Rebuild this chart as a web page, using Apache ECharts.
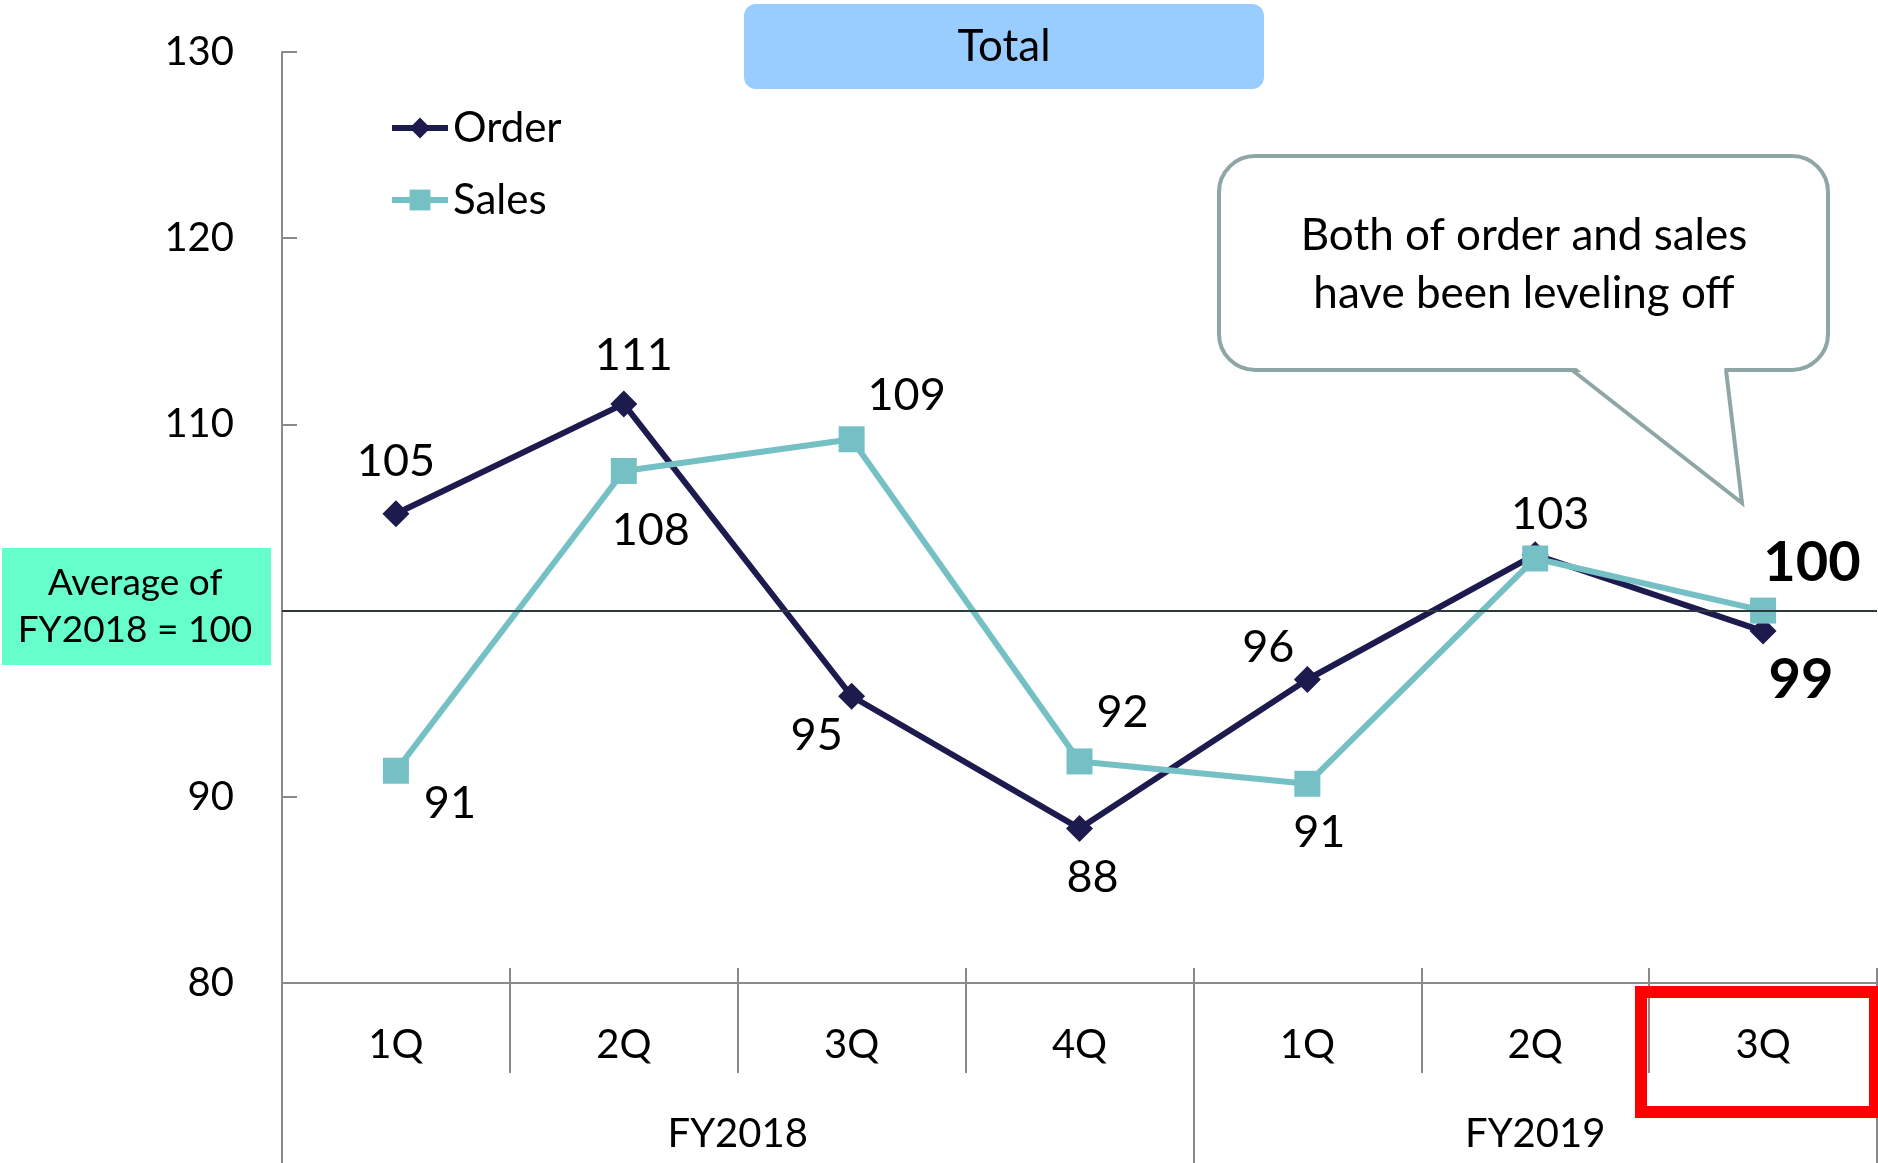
<!DOCTYPE html>
<html>
<head>
<meta charset="utf-8">
<script src="https://cdn.jsdelivr.net/npm/echarts@6/dist/echarts.min.js"></script>
<style>
html,body{margin:0;padding:0;background:#fff;}
#chart{width:1878px;height:1163px;}
</style>
</head>
<body>
<div id="chart"></div>
<script>
// ---- data ----
const quarters = ['1Q', '2Q', '3Q', '4Q', '1Q', '2Q', '3Q'];
const fiscalYears = ['FY2018', 'FY2019'];
const fyQuarterCounts = [4, 3];
const orderValues = [105.2, 111.1, 95.4, 88.3, 96.3, 103.0, 98.9];
const salesValues = [91.4, 107.5, 109.2, 91.9, 90.7, 102.8, 100.0];
const yTicks = [80, 90, 100, 110, 120, 130];
const baselineValue = 100;

// ---- label styling (offsets from each point, in px) ----
const orderLabelOffsets = [[0, -52], [10, -48], [-35, 39], [13, 49], [-39, -32], [15, -40], [38, 49]];
const salesLabelOffsets = [[54, 33], [27, 60], [55, -44], [43, -49], [12, 49], null, [49, -48]];

const FONT = 'Lato, "Open Sans", sans-serif';
const AXIS_GRAY = '#8a8a8a';

function buildData(values, offsets) {
  return values.map((v, i) => {
    const last = i === values.length - 1;
    const off = offsets[i];
    return {
      value: v,
      label: off ? {
        show: true,
        offset: off,
        fontSize: last ? 56 : 45,
        fontWeight: last ? 'bold' : 'normal'
      } : { show: false }
    };
  });
}

// fiscal year group boundaries and centers computed from counts
const fyBounds = [0];
fyQuarterCounts.forEach(c => fyBounds.push(fyBounds[fyBounds.length - 1] + c));
const fyCenters = fiscalYears.map((_, i) => (fyBounds[i] + fyBounds[i + 1]) / 2);

const chart = echarts.init(document.getElementById('chart'));
chart.setOption({
  animation: false,
  textStyle: { fontFamily: FONT },
  grid: { left: 282, right: 1, top: 52, bottom: 180 },
  legend: {
    data: ['Order', 'Sales'],
    orient: 'vertical',
    left: 384,
    top: 102,
    itemWidth: 56,
    itemHeight: 26,
    itemGap: 30,
    itemTextGap: 3,
    lineStyle: { width: 6 },
    textStyle: { fontSize: 42, color: '#000', fontFamily: FONT, lineHeight: 40 }
  },
  xAxis: [
    {
      type: 'category',
      data: quarters,
      boundaryGap: true,
      position: 'bottom',
      axisLine: { show: true, lineStyle: { color: AXIS_GRAY, width: 2 } },
      axisTick: { show: true, interval: 0, length: 90, inside: false, lineStyle: { color: AXIS_GRAY, width: 2 } },
      axisLabel: { interval: 0, fontSize: 40, color: '#000', margin: 42, fontFamily: FONT },
      splitLine: { show: false }
    },
    {
      type: 'category',
      data: quarters,
      boundaryGap: true,
      position: 'bottom',
      offset: 0,
      axisLine: { show: false },
      axisTick: { show: true, interval: 0, length: 15, inside: true, lineStyle: { color: AXIS_GRAY, width: 2 } },
      axisLabel: { show: false },
      splitLine: { show: false }
    },
    {
      type: 'value',
      min: 0,
      max: fyBounds[fyBounds.length - 1],
      position: 'bottom',
      offset: 0,
      axisLine: { show: false },
      axisTick: { show: true, customValues: fyBounds, length: 182, inside: false, lineStyle: { color: AXIS_GRAY, width: 2 } },
      axisLabel: {
        customValues: fyCenters,
        fontSize: 40, color: '#000', margin: 131, fontFamily: FONT,
        formatter: v => fiscalYears[fyCenters.indexOf(v)] || ''
      },
      splitLine: { show: false }
    }
  ],
  yAxis: {
    type: 'value',
    min: yTicks[0],
    max: yTicks[yTicks.length - 1],
    interval: 10,
    axisLine: { show: true, lineStyle: { color: AXIS_GRAY, width: 2 } },
    axisTick: { show: true, inside: true, length: 15, lineStyle: { color: AXIS_GRAY, width: 2 } },
    axisLabel: {
      fontSize: 40, color: '#000', margin: 48, fontFamily: FONT,
      formatter: v => (v === baselineValue ? '' : String(v))
    },
    splitLine: { show: false }
  },
  series: [
    {
      name: 'Order',
      type: 'line',
      xAxisIndex: 0,
      data: buildData(orderValues, orderLabelOffsets),
      symbol: 'diamond',
      symbolSize: 27,
      lineStyle: { color: '#1d1a4e', width: 6 },
      itemStyle: { color: '#1d1a4e' },
      label: {
        show: true, position: 'inside', color: '#000', fontFamily: FONT,
        formatter: p => String(Math.round(p.value))
      },
      markLine: {
        silent: true,
        symbol: 'none',
        label: { show: false },
        lineStyle: { color: '#2c3a3a', width: 2, type: 'solid' },
        data: [{ yAxis: baselineValue }]
      },
      z: 3
    },
    {
      name: 'Sales',
      type: 'line',
      xAxisIndex: 0,
      data: buildData(salesValues, salesLabelOffsets),
      symbol: 'rect',
      symbolSize: 26,
      lineStyle: { color: '#74c0c4', width: 6 },
      itemStyle: { color: '#74c0c4' },
      label: {
        show: true, position: 'inside', color: '#000', fontFamily: FONT,
        formatter: p => String(Math.round(p.value))
      },
      z: 4
    }
  ],
  graphic: [
    {
      type: 'rect',
      shape: { x: 744, y: 4, width: 520, height: 85, r: 12 },
      style: { fill: '#99ccff' },
      z: 10
    },
    {
      type: 'text',
      x: 1004, y: 47,
      style: { text: 'Total', fontSize: 44, fontFamily: FONT, fill: '#000', align: 'center', verticalAlign: 'middle' },
      z: 11
    },
    {
      type: 'rect',
      shape: { x: 2, y: 548, width: 269, height: 117 },
      style: { fill: '#66ffcc' },
      z: 10
    },
    {
      type: 'text',
      x: 135, y: 607,
      style: { text: 'Average of\nFY2018 = 100', fontSize: 37, lineHeight: 47, fontFamily: FONT, fill: '#000', align: 'center', verticalAlign: 'middle' },
      z: 11
    },
    {
      type: 'rect',
      shape: { x: 1219, y: 156, width: 609, height: 214, r: 36 },
      style: { fill: '#ffffff', stroke: '#8fa6a7', lineWidth: 4 },
      z: 10
    },
    {
      type: 'polygon',
      shape: { points: [[1574, 366], [1724, 366], [1742, 501]] },
      style: { fill: '#ffffff' },
      z: 11
    },
    {
      type: 'polyline',
      shape: { points: [[1572, 370], [1742, 503], [1726, 370]] },
      style: { fill: null, stroke: '#8fa6a7', lineWidth: 4, lineJoin: 'miter' },
      z: 11
    },
    {
      type: 'text',
      x: 1524, y: 265,
      style: { text: 'Both of order and sales\nhave been leveling off', fontSize: 44, lineHeight: 58, fontFamily: FONT, fill: '#000', align: 'center', verticalAlign: 'middle' },
      z: 12
    },
    {
      type: 'rect',
      shape: { x: 1641, y: 992, width: 234, height: 120 },
      style: { fill: null, stroke: '#ff0000', lineWidth: 12 },
      z: 12
    }
  ]
});
</script>
</body>
</html>
